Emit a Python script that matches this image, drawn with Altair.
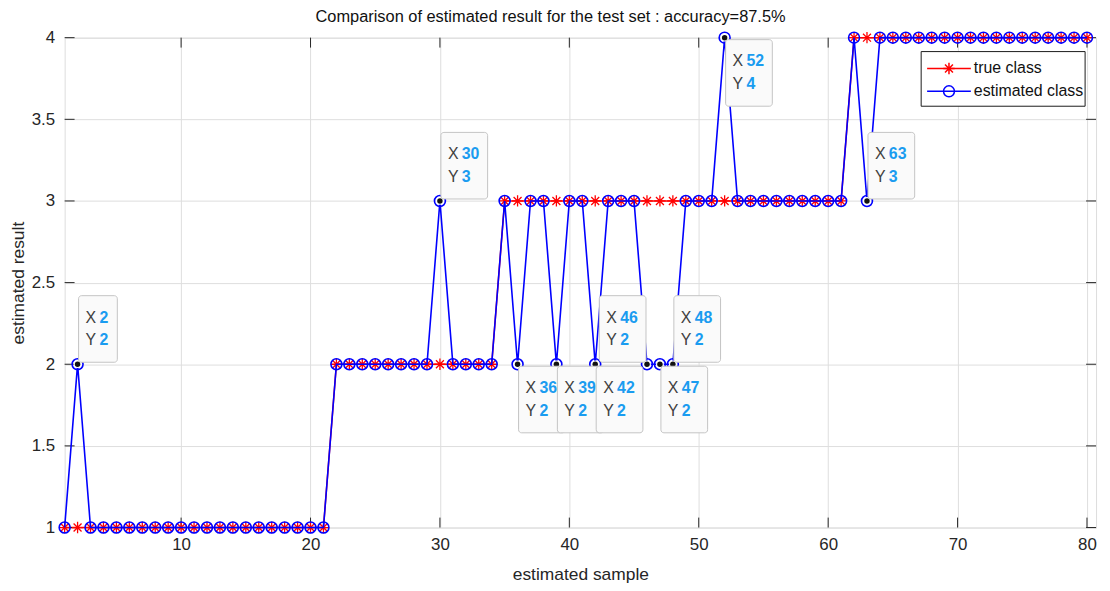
import altair as alt
import pandas as pd

# ---------------- data ----------------
sample = list(range(1, 81))
true_class = [1, 1, 1, 1, 1, 1, 1, 1, 1, 1, 1, 1, 1, 1, 1, 1, 1, 1, 1, 1, 1,
              2, 2, 2, 2, 2, 2, 2, 2, 2, 2, 2, 2, 2,
              3, 3, 3, 3, 3, 3, 3, 3, 3, 3, 3, 3, 3, 3, 3, 3, 3, 3, 3, 3, 3, 3, 3, 3, 3, 3, 3,
              4, 4, 4, 4, 4, 4, 4, 4, 4, 4, 4, 4, 4, 4, 4, 4, 4, 4, 4]
est_class = [1, 2, 1, 1, 1, 1, 1, 1, 1, 1, 1, 1, 1, 1, 1, 1, 1, 1, 1, 1, 1,
             2, 2, 2, 2, 2, 2, 2, 2, 3, 2, 2, 2, 2,
             3, 2, 3, 3, 2, 3, 3, 2, 3, 3, 3, 2, 2, 2, 3, 3, 3, 4, 3, 3, 3, 3, 3, 3, 3, 3, 3,
             4, 3, 4, 4, 4, 4, 4, 4, 4, 4, 4, 4, 4, 4, 4, 4, 4, 4, 4]

tip_x = [2, 30, 36, 39, 42, 46, 47, 48, 52, 63]
tip_y = [2, 3, 2, 2, 2, 2, 2, 2, 4, 3]
tip_h = ["right", "right", "right", "right", "right", "left", "right", "right", "right", "right"]
tip_v = ["up", "up", "down", "down", "down", "up", "down", "up", "down", "up"]

x_ticks = [10, 20, 30, 40, 50, 60, 70, 80]
y_ticks = [1, 1.5, 2, 2.5, 3, 3.5, 4]
legend_labels = ["true class", "estimated class"]
title_text = "Comparison of estimated result for the test set : accuracy=87.5%"

# ---------------- styling ----------------
W, H = 1038, 493
FONT = "Liberation Sans"
RED = "#ff0000"
BLUE = "#0000ff"
AX = "#262626"
TIPBLUE = "#1a9cf0"
STAR = "M0,-1L0,1M-1,0L1,0M-0.7,-0.7L0.7,0.7M-0.7,0.7L0.7,-0.7"

xs = alt.Scale(domain=[1, 80.7], nice=False, zero=False)
ys = alt.Scale(domain=[1, 4], nice=False, zero=False)

df = pd.DataFrame({"x": sample, "t": true_class, "e": est_class})

xaxis = alt.Axis(values=x_ticks, grid=True, gridColor="#dedede", domain=False,
                 ticks=False, labelPadding=9, labelFontSize=17, labelFont=FONT,
                 labelColor=AX, title="estimated sample", titleFont=FONT,
                 titleFontSize=17.5, titleFontWeight="normal", titleColor=AX,
                 titlePadding=13, format="~g")
yaxis = alt.Axis(values=y_ticks, grid=True, gridColor="#dedede", domain=False,
                 ticks=False, labelPadding=10, labelFontSize=17, labelFont=FONT,
                 labelColor=AX, title="estimated result", titleFont=FONT,
                 titleFontSize=17.5, titleFontWeight="normal", titleColor=AX,
                 titlePadding=4, format="~g")

base = alt.Chart(df)
true_line = base.mark_line(color=RED, strokeWidth=1.5).encode(
    x=alt.X("x:Q", scale=xs, axis=xaxis), y=alt.Y("t:Q", scale=ys, axis=yaxis))
true_pts = base.mark_point(shape=STAR, size=130, color=RED, filled=False,
                           strokeWidth=1.3, opacity=1).encode(
    x=alt.X("x:Q", scale=xs), y=alt.Y("t:Q", scale=ys))
est_line = base.mark_line(color=BLUE, strokeWidth=1.6).encode(
    x=alt.X("x:Q", scale=xs), y=alt.Y("e:Q", scale=ys))
est_pts = base.mark_point(shape="circle", size=121, color=BLUE, filled=False,
                          strokeWidth=1.6, opacity=1).encode(
    x=alt.X("x:Q", scale=xs), y=alt.Y("e:Q", scale=ys))

tdf = pd.DataFrame({"x": tip_x, "y": tip_y})
tip_white = alt.Chart(tdf).mark_point(shape="circle", size=60, filled=True,
                                      color="white", opacity=1).encode(
    x=alt.X("x:Q", scale=xs), y=alt.Y("y:Q", scale=ys))
tip_black = alt.Chart(tdf).mark_point(shape="circle", size=30, filled=True,
                                      color="#111111", opacity=1).encode(
    x=alt.X("x:Q", scale=xs), y=alt.Y("y:Q", scale=ys))

# inward ticks (MATLAB style) + box
tick_x_df = pd.DataFrame({"v": x_ticks})
tick_y_df = pd.DataFrame({"v": y_ticks})
ticks = [
    alt.Chart(tick_x_df).mark_rule(color=AX, strokeWidth=1).encode(
        x=alt.X("v:Q", scale=xs), y=alt.value(H), y2=alt.value(H - 10)),
    alt.Chart(tick_x_df).mark_rule(color=AX, strokeWidth=1).encode(
        x=alt.X("v:Q", scale=xs), y=alt.value(0), y2=alt.value(10)),
    alt.Chart(tick_y_df).mark_rule(color=AX, strokeWidth=1).encode(
        y=alt.Y("v:Q", scale=ys), x=alt.value(0), x2=alt.value(10)),
    alt.Chart(tick_y_df).mark_rule(color=AX, strokeWidth=1).encode(
        y=alt.Y("v:Q", scale=ys), x=alt.value(W), x2=alt.value(W - 10)),
]

# data tips
tips = []
for tx, ty, h, v in zip(tip_x, tip_y, tip_h, tip_v):
    d = pd.DataFrame({"x": [tx], "y": [ty], "xl": [str(tx)], "yl": [str(ty)]})
    w = 39 if len(str(tx)) == 1 else 47
    if h == "right":
        x0, x1 = 1, 1 + w
    else:
        x0, x1 = -1 - w, -1
    if v == "up":
        y0, y1 = -69, -2
    else:
        y0, y1 = 2, 69
    b = alt.Chart(d)
    enc = dict(x=alt.X("x:Q", scale=xs), y=alt.Y("y:Q", scale=ys))
    tips.append(b.mark_rect(fill="#fafafa", stroke="#c4c4c4", strokeWidth=1,
                            cornerRadius=3, xOffset=x0, x2Offset=x1,
                            yOffset=y0, y2Offset=y1).encode(
        x2=alt.X2("x"), y2=alt.Y2("y"), **enc))
    for lab, col, dyy in (("X", "xl", 22), ("Y", "yl", 45)):
        tips.append(b.mark_text(text=lab, align="left", baseline="middle",
                                dx=x0 + 7, dy=y0 + dyy, font=FONT, fontSize=16,
                                color="#404040").encode(**enc))
        tips.append(b.mark_text(align="left", baseline="middle",
                                dx=x0 + 21, dy=y0 + dyy, font=FONT, fontSize=16,
                                fontWeight="bold", color=TIPBLUE).encode(
            text=f"{col}:N", **enc))

# legend (manual, MATLAB style)
ldf = pd.DataFrame({"label": legend_labels, "row": [0, 1]})
one = alt.Chart(pd.DataFrame({"a": [0]}))
leg_box = one.mark_rect(fill="white", stroke="#1a1a1a", strokeWidth=1).encode(
    x=alt.value(862), x2=alt.value(1027), y=alt.value(14), y2=alt.value(69))
LY = [31, 54]
leg = [leg_box]
for i, (lab, col, shp) in enumerate(zip(legend_labels, [RED, BLUE], [STAR, "circle"])):
    r = alt.Chart(ldf[ldf.row == i])
    leg.append(r.mark_rule(color=col, strokeWidth=1.6).encode(
        x=alt.value(868), x2=alt.value(912), y=alt.value(LY[i])))
    leg.append(r.mark_point(shape=shp, size=121 if shp == "circle" else 130,
                            filled=False, color=col, strokeWidth=1.5, opacity=1).encode(
        x=alt.value(890), y=alt.value(LY[i])))
    leg.append(r.mark_text(align="left", baseline="middle", font=FONT,
                           fontSize=16, color="#111111").encode(
        x=alt.value(915), y=alt.value(LY[i]), text="label:N"))

chart = alt.layer(true_line, *ticks, true_pts, est_line, est_pts, tip_white,
                  tip_black, *tips, *leg).properties(
    width=W, height=H,
    title=alt.TitleParams(title_text, font=FONT, fontSize=16.5,
                          fontWeight="normal", color="#111111", anchor="middle",
                          dx=-30, offset=3),
    autosize=alt.AutoSizeParams(type="none"),
    padding={"left": 57, "top": 28, "right": 6, "bottom": 60},
).configure_view(stroke=AX, strokeWidth=1).configure(background="white")

chart.save("out.html", embed_options={"renderer": "svg", "actions": False})
